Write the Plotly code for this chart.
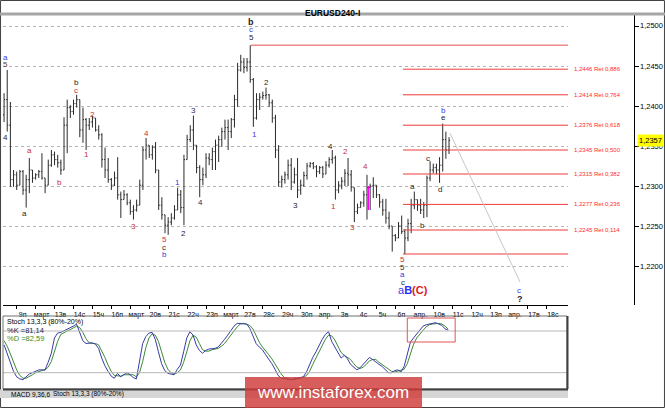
import plotly.graph_objects as go

W, H = 665, 408

# ---------------- data ----------------
day_labels = ["9п", "март", "13в", "14с", "15ч", "16п", "март", "20в", "21с", "22ч", "23п",
              "март", "27в", "28с", "29ч", "30п", "апр.", "3в", "4с", "5ч", "6п", "апр.",
              "10в", "11с", "12ч", "13п", "апр.", "17в", "18с"]

opens = [1.2389, 1.2408, 1.2376, 1.2308, 1.2314, 1.2301, 1.2318, 1.2295, 1.2308, 1.2320,
         1.2310, 1.2314, 1.2318, 1.2310, 1.2301, 1.2326, 1.2339, 1.2333, 1.2329, 1.2320,
         1.2376, 1.2398, 1.2393, 1.2403, 1.2408, 1.2370, 1.2383, 1.2376, 1.2380, 1.2385,
         1.2370, 1.2364, 1.2333, 1.2320, 1.2308, 1.2301, 1.2310, 1.2289, 1.2283, 1.2289,
         1.2279, 1.2268, 1.2270, 1.2276, 1.2301, 1.2345, 1.2351, 1.2339, 1.2348, 1.2320,
         1.2276, 1.2264, 1.2251, 1.2255, 1.2260, 1.2270, 1.2289, 1.2273, 1.2333, 1.2358,
         1.2370, 1.2351, 1.2323, 1.2308, 1.2314, 1.2335, 1.2333, 1.2343, 1.2351, 1.2358,
         1.2368, 1.2373, 1.2368, 1.2383, 1.2408, 1.2445, 1.2455, 1.2448, 1.2455, 1.2433,
         1.2385, 1.2408, 1.2411, 1.2413, 1.2414, 1.2404, 1.2385, 1.2345, 1.2305, 1.2308,
         1.2314, 1.2326, 1.2305, 1.2314, 1.2295, 1.2301, 1.2313, 1.2325, 1.2328, 1.2324,
         1.2318, 1.2323, 1.2315, 1.2326, 1.2333, 1.2335, 1.2295, 1.2301, 1.2306, 1.2316,
         1.2314, 1.2298, 1.2268, 1.2273, 1.2279, 1.2289, 1.2298, 1.2300, 1.2301, 1.2289,
         1.2280, 1.2270, 1.2260, 1.2250, 1.2238, 1.2235, 1.2250, 1.2243, 1.2235, 1.2253,
         1.2276, 1.2283, 1.2276, 1.2270, 1.2276, 1.2310, 1.2320, 1.2323, 1.2320, 1.2326,
         1.2358, 1.2345]
highs = [1.2416, 1.2445, 1.2405, 1.2320, 1.2318, 1.2320, 1.2320, 1.2314, 1.2335, 1.2320,
         1.2316, 1.2320, 1.2341, 1.2310, 1.2333, 1.2345, 1.2343, 1.2339, 1.2333, 1.2386,
         1.2408, 1.2401, 1.2408, 1.2414, 1.2408, 1.2398, 1.2385, 1.2385, 1.2388, 1.2385,
         1.2376, 1.2366, 1.2348, 1.2335, 1.2310, 1.2318, 1.2336, 1.2293, 1.2295, 1.2291,
         1.2283, 1.2276, 1.2283, 1.2308, 1.2349, 1.2360, 1.2351, 1.2351, 1.2355, 1.2320,
         1.2286, 1.2264, 1.2261, 1.2266, 1.2276, 1.2298, 1.2295, 1.2339, 1.2364, 1.2376,
         1.2388, 1.2351, 1.2326, 1.2323, 1.2341, 1.2341, 1.2348, 1.2358, 1.2363, 1.2373,
         1.2383, 1.2383, 1.2385, 1.2414, 1.2454, 1.2464, 1.2460, 1.2460, 1.2476, 1.2435,
         1.2416, 1.2416, 1.2418, 1.2423, 1.2415, 1.2408, 1.2389, 1.2351, 1.2313, 1.2318,
         1.2333, 1.2335, 1.2323, 1.2335, 1.2308, 1.2318, 1.2329, 1.2330, 1.2330, 1.2326,
         1.2325, 1.2325, 1.2331, 1.2336, 1.2345, 1.2338, 1.2306, 1.2311, 1.2321, 1.2335,
         1.2320, 1.2298, 1.2278, 1.2281, 1.2294, 1.2314, 1.2303, 1.2311, 1.2301, 1.2290,
         1.2284, 1.2284, 1.2268, 1.2250, 1.2240, 1.2255, 1.2263, 1.2246, 1.2259, 1.2284,
         1.2293, 1.2283, 1.2284, 1.2280, 1.2313, 1.2331, 1.2328, 1.2328, 1.2336, 1.2378,
         1.2368, 1.2361]
lows = [1.2380, 1.2368, 1.2299, 1.2299, 1.2295, 1.2301, 1.2289, 1.2273, 1.2291, 1.2304,
        1.2308, 1.2310, 1.2308, 1.2291, 1.2301, 1.2324, 1.2326, 1.2323, 1.2314, 1.2320,
        1.2341, 1.2385, 1.2389, 1.2398, 1.2361, 1.2354, 1.2345, 1.2370, 1.2373, 1.2368,
        1.2358, 1.2323, 1.2310, 1.2304, 1.2295, 1.2300, 1.2283, 1.2260, 1.2283, 1.2276,
        1.2264, 1.2258, 1.2268, 1.2276, 1.2295, 1.2333, 1.2335, 1.2333, 1.2316, 1.2270,
        1.2258, 1.2241, 1.2239, 1.2251, 1.2258, 1.2270, 1.2266, 1.2251, 1.2333, 1.2355,
        1.2345, 1.2316, 1.2286, 1.2301, 1.2310, 1.2326, 1.2320, 1.2320, 1.2330, 1.2349,
        1.2358, 1.2345, 1.2360, 1.2373, 1.2399, 1.2443, 1.2441, 1.2443, 1.2429, 1.2374,
        1.2383, 1.2395, 1.2408, 1.2408, 1.2399, 1.2379, 1.2335, 1.2299, 1.2298, 1.2303,
        1.2308, 1.2295, 1.2303, 1.2285, 1.2289, 1.2299, 1.2308, 1.2323, 1.2321, 1.2311,
        1.2315, 1.2310, 1.2315, 1.2323, 1.2328, 1.2283, 1.2291, 1.2296, 1.2300, 1.2300,
        1.2293, 1.2255, 1.2265, 1.2273, 1.2274, 1.2258, 1.2270, 1.2285, 1.2285, 1.2273,
        1.2263, 1.2253, 1.2246, 1.2218, 1.2231, 1.2235, 1.2240, 1.2215, 1.2231, 1.2241,
        1.2271, 1.2269, 1.2265, 1.2260, 1.2261, 1.2306, 1.2316, 1.2315, 1.2304, 1.2318,
        1.2334, 1.2340]
closes = [1.2408, 1.2376, 1.2308, 1.2314, 1.2301, 1.2318, 1.2295, 1.2308, 1.2320, 1.2310,
          1.2314, 1.2318, 1.2310, 1.2301, 1.2326, 1.2339, 1.2333, 1.2329, 1.2320, 1.2376,
          1.2398, 1.2393, 1.2403, 1.2408, 1.2370, 1.2383, 1.2376, 1.2380, 1.2385, 1.2370,
          1.2364, 1.2333, 1.2320, 1.2308, 1.2301, 1.2310, 1.2289, 1.2283, 1.2289, 1.2279,
          1.2268, 1.2270, 1.2276, 1.2301, 1.2345, 1.2351, 1.2339, 1.2348, 1.2320, 1.2276,
          1.2264, 1.2251, 1.2255, 1.2260, 1.2270, 1.2289, 1.2273, 1.2333, 1.2358, 1.2370,
          1.2351, 1.2323, 1.2308, 1.2314, 1.2335, 1.2333, 1.2343, 1.2351, 1.2358, 1.2368,
          1.2373, 1.2368, 1.2383, 1.2408, 1.2445, 1.2455, 1.2448, 1.2455, 1.2433, 1.2385,
          1.2408, 1.2411, 1.2413, 1.2414, 1.2404, 1.2385, 1.2345, 1.2305, 1.2308, 1.2314,
          1.2326, 1.2305, 1.2314, 1.2295, 1.2301, 1.2313, 1.2325, 1.2328, 1.2324, 1.2318,
          1.2323, 1.2315, 1.2326, 1.2333, 1.2335, 1.2295, 1.2301, 1.2306, 1.2316, 1.2314,
          1.2298, 1.2268, 1.2273, 1.2279, 1.2289, 1.2298, 1.2300, 1.2301, 1.2289, 1.2280,
          1.2270, 1.2260, 1.2250, 1.2238, 1.2235, 1.2250, 1.2243, 1.2235, 1.2253, 1.2276,
          1.2283, 1.2276, 1.2270, 1.2276, 1.2310, 1.2320, 1.2323, 1.2320, 1.2326, 1.2358,
          1.2345, 1.2357]

stoch_k = [60, 47, 35, 22, 14, 11, 10, 14, 18, 20, 22, 24, 24, 24, 35, 48, 70, 77, 78, 80,
           82, 84, 87, 90, 79, 66, 62, 62, 63, 61, 55, 41, 30, 22, 15, 12, 19, 14, 17, 20,
           17, 13, 11, 35, 62, 72, 77, 78, 68, 50, 33, 23, 19, 18, 17, 25, 31, 50, 70, 79,
           74, 60, 52, 48, 52, 54, 54, 55, 57, 62, 68, 74, 81, 87, 91, 91, 90, 90, 84, 74,
           62, 57, 53, 46, 40, 33, 25, 16, 12, 11, 10, 10, 11, 12, 12, 14, 21, 32, 42, 50,
           60, 68, 75, 79, 65, 57, 48, 41, 45, 40, 32, 28, 24, 27, 32, 37, 42, 39, 35, 32,
           29, 25, 20, 20, 23, 24, 21, 29, 48, 64, 70, 76, 81, 87, 89, 90, 91, 92, 90, 88,
           83, 81.14]
stoch_d = [66, 58, 47, 35, 24, 16, 12, 12, 14, 17, 20, 22, 23, 24, 28, 36, 51, 65, 75, 78,
           80, 82, 84, 87, 85, 78, 69, 63, 62, 62, 60, 52, 42, 31, 22, 16, 15, 15, 17, 17,
           18, 17, 14, 20, 36, 56, 70, 76, 74, 65, 50, 35, 25, 20, 18, 20, 24, 35, 50, 66,
           74, 71, 62, 53, 51, 51, 53, 54, 55, 58, 62, 68, 74, 81, 86, 90, 91, 90, 88, 83,
           73, 64, 57, 52, 46, 40, 33, 25, 18, 13, 11, 10, 10, 11, 12, 13, 16, 22, 32, 41,
           51, 59, 68, 74, 73, 67, 57, 49, 45, 42, 39, 33, 28, 26, 28, 32, 37, 39, 39, 35,
           32, 29, 25, 22, 21, 22, 23, 25, 33, 47, 61, 70, 76, 81, 86, 89, 90, 91, 91, 90,
           87, 82.59]

fib_levels = [1.2446, 1.2414, 1.2376, 1.2345, 1.2315, 1.2277, 1.2245]
fib_names = ["0,886", "0,764", "0,618", "0,500", "0,382", "0,236", "0,114"]
fib_high = 1.2476
fib_low = 1.2215
price_ticks = [1.2200, 1.2250, 1.2300, 1.2350, 1.2400, 1.2450, 1.2500]
price_tick_text = ["1,2200", "1,2250", "1,2300", "1,2350", "1,2400", "1,2450", "1,2500"]
last_price = 1.2357
last_k, last_d = "81,14", "82,59"

RED = "#c83030"
BLUE = "#3a3ae0"
BLK = "#1e1e1e"
# wave labels: (bar position, price, text, colour, bold)
wave_labels = [
    (0.6, 1.2461, "a", BLUE, False), (0.6, 1.2452, "5", "#5a3a3a", False),
    (0.6, 1.2361, "4", BLK, False), (6.6, 1.2266, "a", BLK, False),
    (7.9, 1.2345, "a", RED, False), (17.7, 1.2304, "b", RED, False),
    (22.8, 1.2430, "b", BLK, False), (22.8, 1.2419, "c", RED, False),
    (26.0, 1.2339, "1", RED, False), (27.9, 1.2390, "2", RED, False),
    (40.9, 1.2250, "3", RED, False), (45.0, 1.2366, "4", RED, False),
    (50.7, 1.2233, "5", RED, False), (50.7, 1.2223, "c", BLK, False),
    (50.7, 1.2214, "b", BLUE, False), (55.1, 1.2305, "1", BLUE, False),
    (57.0, 1.2241, "2", BLK, False), (59.9, 1.2395, "3", "#2a2a6a", False),
    (62.1, 1.2279, "4", "#2a2a6a", False),
    (78.3, 1.2505, "b", BLK, True), (78.3, 1.2495, "c", BLUE, False),
    (78.3, 1.2486, "5", BLK, False), (79.2, 1.2365, "1", BLUE, False),
    (83.0, 1.2430, "2", BLK, False), (92.2, 1.2276, "3", BLK, False),
    (103.3, 1.2350, "4", BLK, False), (104.3, 1.2274, "1", RED, False),
    (108.1, 1.2343, "2", RED, False), (110.3, 1.2248, "3", RED, False),
    (114.4, 1.2324, "4", RED, False),
    (126.4, 1.2208, "5", RED, False), (126.4, 1.2198, "5", BLK, False),
    (126.4, 1.2189, "a", BLUE, False), (126.4, 1.2180, "c", BLK, False),
    (129.3, 1.2299, "a", BLK, False), (132.5, 1.2251, "b", BLK, False),
    (134.4, 1.2335, "c", BLK, False), (138.2, 1.2296, "d", BLK, False),
    (139.4, 1.2386, "e", BLK, False), (139.4, 1.2394, "b", BLUE, False),
    (163.2, 1.2170, "c", BLUE, False), (163.5, 1.2159, "?", BLK, True),
]

# ---------------- figure ----------------
FONT = "Liberation Sans, Arial, sans-serif"
bars = list(range(len(opens)))


def px_x(p):
    return p / W


def px_y(p):
    return 1 - p / H


X_RANGE = [-0.34, 178.7]

fig = go.Figure()
fig.add_trace(go.Ohlc(
    x=bars, open=opens, high=highs, low=lows, close=closes,
    increasing=dict(line=dict(color="#2a2a2a", width=1)),
    decreasing=dict(line=dict(color="#2a2a2a", width=1)),
    tickwidth=0.35, hoverinfo="skip", xaxis="x", yaxis="y"))
fig.add_trace(go.Scatter(x=bars, y=stoch_d, mode="lines",
                         line=dict(color="#3a8a3a", width=1), xaxis="x2", yaxis="y2",
                         hoverinfo="skip"))
fig.add_trace(go.Scatter(x=bars, y=stoch_k, mode="lines",
                         line=dict(color="#3a3aa8", width=1), xaxis="x2", yaxis="y2",
                         hoverinfo="skip"))

shapes = []
# outer frame
shapes.append(dict(type="rect", xref="paper", yref="paper", x0=0.0008, x1=0.9992,
                   y0=0.0012, y1=0.9988, line=dict(color="#404040", width=1)))
# top grey bar
shapes.append(dict(type="rect", xref="paper", yref="paper", x0=0, x1=1,
                   y0=px_y(15.5), y1=px_y(12.5), fillcolor="#a6a6a6", line=dict(width=0)))
# fibonacci lines
shapes.append(dict(type="line", xref="x", yref="y", x0=78.2, x1=X_RANGE[1],
                   y0=fib_high, y1=fib_high, line=dict(color="#f08a8a", width=1.5)))
for lv in fib_levels + [fib_low]:
    shapes.append(dict(type="line", xref="x", yref="y", x0=126.4, x1=X_RANGE[1],
                       y0=lv, y1=lv, line=dict(color="#f03a3a", width=1)))
# projection line
shapes.append(dict(type="line", xref="x", yref="y", x0=141.3, y0=1.2366, x1=163.5, y1=1.2180,
                   line=dict(color="#c8c8c8", width=1)))
# magenta marker
shapes.append(dict(type="line", xref="x", yref="y", x0=115.4, x1=115.4, y0=1.2270, y1=1.2300,
                   line=dict(color="#ff00ff", width=1.5)))
# stochastic panel
shapes.append(dict(type="line", xref="paper", yref="y2", x0=px_x(3), x1=px_x(567), y0=80, y1=80,
                   line=dict(color="#b8b8b8", width=1)))
shapes.append(dict(type="line", xref="paper", yref="y2", x0=px_x(3), x1=px_x(567), y0=20, y1=20,
                   line=dict(color="#b8b8b8", width=1)))
shapes.append(dict(type="rect", xref="paper", yref="paper", x0=px_x(3), x1=px_x(567),
                   y0=px_y(389), y1=px_y(316), line=dict(color="#707070", width=1)))
shapes.append(dict(type="line", xref="paper", yref="paper", x0=px_x(567.5), x1=px_x(567.5),
                   y0=px_y(389), y1=px_y(316), line=dict(color="#404040", width=2)))
shapes.append(dict(type="rect", xref="x2", yref="paper", x0=128.0, x1=143.2,
                   y0=px_y(342), y1=px_y(318), line=dict(color="#e05555", width=1)))
# tab bar
shapes.append(dict(type="rect", xref="paper", yref="paper", x0=0, x1=px_x(568),
                   y0=px_y(398), y1=px_y(389.5), fillcolor="#d6d6d6", line=dict(width=0)))
shapes.append(dict(type="line", xref="paper", yref="paper", x0=px_x(3), x1=px_x(568),
                   y0=px_y(389.5), y1=px_y(389.5), line=dict(color="#404040", width=2)))
# watermark box
shapes.append(dict(type="rect", xref="paper", yref="paper", x0=px_x(245), x1=px_x(422),
                   y0=0, y1=px_y(377), fillcolor="rgba(208,58,58,0.82)", line=dict(width=0),
                   layer="above"))

ann = []
ann.append(dict(xref="paper", yref="paper", x=px_x(332), y=px_y(6), text="<b>EURUSD240-I</b>",
                showarrow=False, font=dict(family=FONT, size=8.5, color="#000")))
for bx, pr, txt, col, bold in wave_labels:
    ann.append(dict(xref="x", yref="y", x=bx, y=pr, text=f"<b>{txt}</b>" if bold else txt,
                    showarrow=False, font=dict(family=FONT, size=9 if bold else 8, color=col),
                    xanchor="center", yanchor="middle"))
ann.append(dict(xref="x", yref="y", x=129.5, y=1.2170,
                text=("<span style='color:#3a3ae0'>a</span><b><span style='color:#2a2aff'>B</span>"
                      "<span style='color:#e02020'>(C)</span></b>"),
                showarrow=False, font=dict(family=FONT, size=11), xanchor="center", yanchor="middle"))
for lv, nm in zip(fib_levels, fib_names):
    ann.append(dict(xref="paper", yref="y", x=px_x(572), y=lv,
                    text=f"{lv:.4f}".replace(".", ",") + " Ret " + nm,
                    showarrow=False, xanchor="left", yanchor="middle",
                    font=dict(family=FONT, size=6, color="#ff2a2a")))
# price scale labels
for pv, pt in zip(price_ticks, price_tick_text):
    ann.append(dict(xref="paper", yref="y", x=px_x(639), y=pv, text=pt, showarrow=False,
                    xanchor="left", yanchor="middle", borderpad=0,
                    font=dict(family=FONT, size=7.5, color="#000")))
ann.append(dict(xref="paper", yref="y", x=px_x(637), y=last_price,
                text=f"{last_price:.4f}".replace(".", ","), showarrow=False,
                xanchor="left", yanchor="middle", bgcolor="#ffff00", borderpad=1,
                font=dict(family=FONT, size=7.5, color="#000")))
ann.append(dict(xref="paper", yref="paper", x=px_x(5), y=px_y(321.5),
                text="Stoch 13,3,3 (80%-20%)", showarrow=False, xanchor="left",
                yanchor="middle", font=dict(family=FONT, size=7, color="#000")))
ann.append(dict(xref="paper", yref="paper", x=px_x(5), y=px_y(330),
                text=f"%K ={last_k}", showarrow=False, xanchor="left",
                yanchor="middle", font=dict(family=FONT, size=7.5, color="#22225a")))
ann.append(dict(xref="paper", yref="paper", x=px_x(5), y=px_y(338),
                text=f"%D ={last_d}", showarrow=False, xanchor="left",
                yanchor="middle", font=dict(family=FONT, size=7.5, color="#2e8b2e")))
ann.append(dict(xref="paper", yref="paper", x=px_x(9), y=px_y(394),
                text="MACD 9,36,6", showarrow=False, xanchor="left",
                yanchor="middle", font=dict(family=FONT, size=6.5, color="#000")))
ann.append(dict(xref="paper", yref="paper", x=px_x(51), y=px_y(394),
                text="Stoch 13,3,3 (80%-20%)", showarrow=False, xanchor="left",
                yanchor="middle", font=dict(family=FONT, size=6.5, color="#000")))
ann.append(dict(xref="paper", yref="paper", x=px_x(333), y=px_y(392),
                text="www.instaforex.com", showarrow=False, xanchor="center",
                yanchor="middle", font=dict(family=FONT, size=17, color="#ffffff")))

fig.update_layout(
    width=W, height=H, margin=dict(l=0, r=0, t=0, b=0, autoexpand=False),
    paper_bgcolor="#ffffff", plot_bgcolor="#ffffff", showlegend=False, hovermode=False,
    xaxis=dict(domain=[px_x(3), px_x(568)], range=X_RANGE, anchor="y", automargin=False,
               tickvals=[4 + 6 * k for k in range(len(day_labels))], ticktext=day_labels,
               ticks="outside", ticklen=3, tickcolor="#000", ticklabelshift=6,
               tickfont=dict(family=FONT, size=7, color="#000"),
               showline=True, linecolor="#000", linewidth=1, showgrid=False, zeroline=False,
               rangeslider=dict(visible=False), fixedrange=True),
    yaxis=dict(domain=[px_y(305), px_y(15)], range=[1.215125, 1.251375], automargin=False,
               anchor="free", position=px_x(634), side="right",
               tickvals=price_ticks, ticks="outside", ticklen=4, showticklabels=False,
               tickcolor="#000",
               showline=True, linecolor="#000", linewidth=1,
               showgrid=True, gridcolor="#b4b4b4", griddash="3px,3px", gridwidth=1,
               zeroline=False, fixedrange=True),
    xaxis2=dict(domain=[px_x(3), px_x(567)], range=X_RANGE, anchor="y2", automargin=False,
                showticklabels=False, ticks="", showgrid=False, zeroline=False, showline=False),
    yaxis2=dict(domain=[px_y(389), px_y(316)], range=[-3.5, 101.6], anchor="x2", automargin=False,
                showticklabels=False, ticks="", showgrid=False, zeroline=False, showline=False),
    shapes=shapes, annotations=ann,
)

fig.write_html("out.html", config={"displayModeBar": False},
               post_script="document.body.style.margin='0';document.body.style.overflow='hidden';")
